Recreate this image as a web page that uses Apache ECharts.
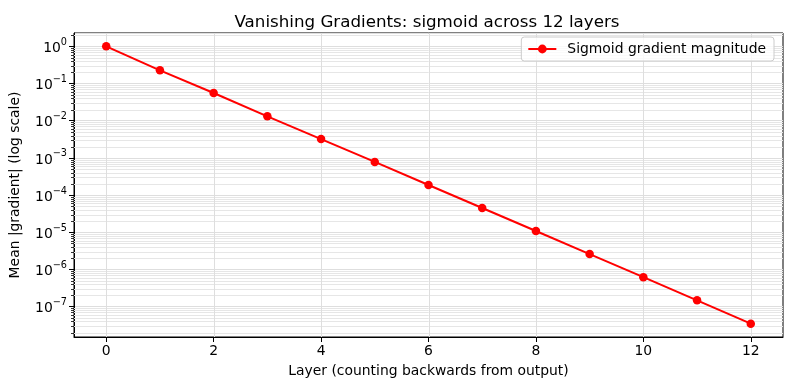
<!DOCTYPE html>
<html>
<head>
<meta charset="utf-8">
<script src="https://cdn.jsdelivr.net/npm/echarts@6/dist/echarts.min.js"></script>
<style>html,body{margin:0;padding:0;background:#fff;}#c{width:790px;height:390px;}</style>
</head>
<body>
<div id="c"></div>
<script>
const layers = [0,1,2,3,4,5,6,7,8,9,10,11,12];
const gradMagnitude = [1.0, 0.226, 0.0555, 0.0131, 0.0032, 7.8e-4, 1.87e-4, 4.5e-5, 1.08e-5, 2.6e-6, 6.2e-7, 1.48e-7, 3.5e-8];
const xTicks = [0,2,4,6,8,10,12];
const FONT = 'DejaVu Sans';

const minorVals = [];
for (let d = -8; d <= 0; d++) {
  for (let m = 2; m <= 9; m++) minorVals.push(m * Math.pow(10, d));
}
const yMin = 1.53e-8, yMax = 2.28;
const minorInRange = minorVals.filter(v => v > yMin && v < yMax);

const chart = echarts.init(document.getElementById('c'), null, {renderer:'canvas'});
chart.setOption({
  animation: false,
  backgroundColor: '#fff',
  title: {
    text: 'Vanishing Gradients: sigmoid across 12 layers',
    left: 422, top: 9, textAlign: 'center',
    textStyle: {fontFamily: FONT, fontSize: 16.7, fontWeight: 'normal', color: '#000'}
  },
  legend: {
    data: ['Sigmoid gradient magnitude'],
    right: 16, top: 37,
    padding: [5, 8, 5, 6],
    itemWidth: 28, itemHeight: 11,
    borderColor: '#cccccc', borderWidth: 1, borderRadius: 3,
    backgroundColor: 'rgba(255,255,255,0.8)',
    textStyle: {fontFamily: FONT, fontSize: 13.9, color: '#000', padding: [0,0,0,6]}
  },
  grid: {left: 73, right: 7, top: 33, bottom: 53, show: true, borderColor: '#000', borderWidth: 1, containLabel: false},
  xAxis: {
    type: 'value', min: -0.6, max: 12.6,
    name: 'Layer (counting backwards from output)', nameLocation: 'middle', nameGap: 27,
    nameTextStyle: {fontFamily: FONT, fontSize: 13.9, color: '#000'},
    axisLine: {show: true, onZero: false, lineStyle: {color: '#000', width: 1}},
    axisTick: {show: true, customValues: xTicks, length: 5, lineStyle: {color: '#000', width: 1}},
    axisLabel: {customValues: xTicks, margin: 7, fontFamily: FONT, fontSize: 13.9, color: '#000'},
    splitLine: {show: false}
  },
  yAxis: {
    type: 'log', logBase: 10, min: yMin, max: yMax,
    name: 'Mean |gradient| (log scale)', nameLocation: 'middle', nameGap: 52,
    nameTextStyle: {fontFamily: FONT, fontSize: 13.9, color: '#000'},
    axisLine: {show: true, onZero: false, lineStyle: {color: '#000', width: 1}},
    axisTick: {show: true, length: 5, lineStyle: {color: '#000', width: 1}},
    axisLabel: {
      showMinLabel: false, showMaxLabel: false, margin: 7,
      formatter: function (v) {
        const e = Math.round(Math.log10(v));
        if (Math.abs(Math.log10(v) - e) > 1e-6) return '';
        return '{b|10}{s|' + (e < 0 ? '\u2212' : '') + Math.abs(e) + '}';
      },
      rich: {
        b: {fontFamily: FONT, fontSize: 13.9, color: '#000', lineHeight: 18, verticalAlign: 'bottom'},
        s: {fontFamily: FONT, fontSize: 9.7, color: '#000', lineHeight: 18, verticalAlign: 'top'}
      }
    },
    splitLine: {show: true, lineStyle: {color: '#dedede', width: 1}}
  },
  series: [
    {
      type: 'custom', name: 'minor', silent: true, z: 1,
      data: minorInRange.map(v => [0, v]),
      encode: {x: 0, y: 1},
      renderItem: function (params, api) {
        const cs = params.coordSys;
        const p = api.coord([0, api.value(1)]);
        const y = Math.round(p[1]) + 0.5;
        return {
          type: 'group',
          children: [
            {type: 'line', shape: {x1: cs.x, y1: y, x2: cs.x + cs.width, y2: y}, style: {stroke: '#e6e6e6', lineWidth: 1}},
            {type: 'line', shape: {x1: cs.x - 3, y1: y, x2: cs.x, y2: y}, style: {stroke: '#000', lineWidth: 0.8}}
          ]
        };
      }
    },
    {
      type: 'custom', name: 'xgrid', silent: true, z: 1,
      data: xTicks.map(v => [v, 1]),
      encode: {x: 0, y: 1},
      renderItem: function (params, api) {
        const cs = params.coordSys;
        const p = api.coord([api.value(0), 1]);
        const x = Math.round(p[0]) + 0.5;
        return {type: 'line', shape: {x1: x, y1: cs.y, x2: x, y2: cs.y + cs.height}, style: {stroke: '#dedede', lineWidth: 1}};
      }
    },
    {
      type: 'line', name: 'Sigmoid gradient magnitude', z: 5,
      data: layers.map((l, i) => [l, gradMagnitude[i]]),
      symbol: 'circle', symbolSize: 8.5,
      lineStyle: {color: '#ff0000', width: 2},
      itemStyle: {color: '#ff0000'}
    }
  ]
});
</script>
</body>
</html>
